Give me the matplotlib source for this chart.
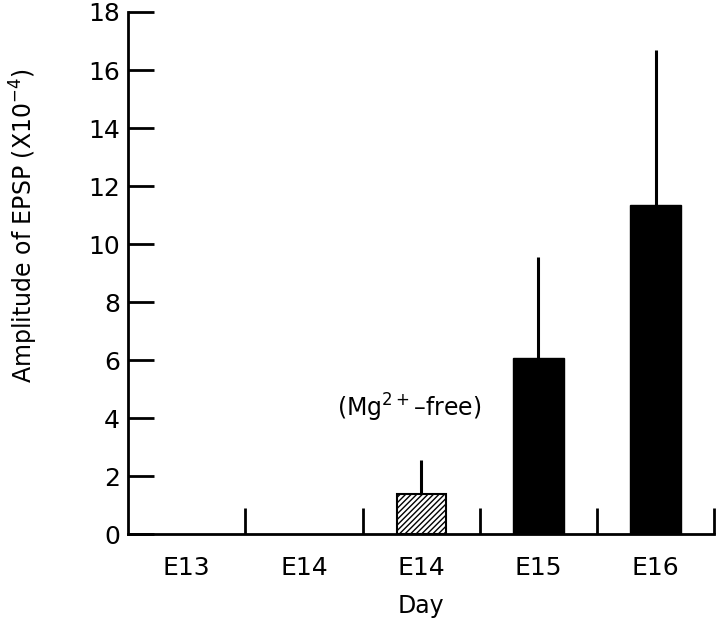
import matplotlib.pyplot as plt
import numpy as np

plt.rcParams['font.family'] = ['DejaVu Sans']

days = ["E13", "E14", "E14", "E15", "E16"]
amp = [0, 0, 1.38, 6.07, 11.34]
err = [0, 0, 1.17, 3.48, 5.36]
hatched = [False, False, True, False, False]
yticks = [0, 2, 4, 6, 8, 10, 12, 14, 16, 18]

fig = plt.figure(figsize=(7.2, 6.3), dpi=100)
ax = fig.add_axes([0.178, 0.152, 0.814, 0.829])

x = np.arange(len(days)) + 0.5
for xi, h, e, hat in zip(x, amp, err, hatched):
    if h <= 0:
        continue
    if hat:
        ax.bar(xi, h, width=0.42, color="white", edgecolor="black",
               hatch="//////", linewidth=1.5, zorder=2)
    else:
        ax.bar(xi, h, width=0.43, color="black", edgecolor="black", zorder=2)
    ax.plot([xi, xi], [h, h + e], color="black", lw=2.2, solid_capstyle="butt", zorder=1)

# category separator ticks pointing up from the baseline
for s in range(1, len(days) + 1):
    ax.plot([s, s], [0, 0.9], color="black", lw=2, solid_capstyle="butt", clip_on=False)

ax.text(x[2] - 0.1, 4.34, "(Mg$^{2+}$\u2013free)", ha="center", va="center", fontsize=17)

ax.set_xlim(0, len(days))
ax.set_ylim(0, 18)
ax.set_yticks(yticks)
ax.set_yticklabels([str(t) for t in yticks], fontsize=18)
ax.tick_params(axis="y", direction="in", length=19, width=2, pad=6)
ax.set_xticks(x)
ax.set_xticklabels(days, fontsize=18)
ax.tick_params(axis="x", length=0, pad=16)

for side in ["top", "right"]:
    ax.spines[side].set_visible(False)
ax.spines["left"].set_linewidth(2)
ax.spines["bottom"].set_linewidth(2)

ax.set_xlabel("Day", fontsize=17, labelpad=10)
ax.set_ylabel("Amplitude of EPSP (X10$^{-4}$)", fontsize=17)
ax.yaxis.set_label_coords(-0.15, 0.59)

fig.savefig("out.png", dpi=100)
